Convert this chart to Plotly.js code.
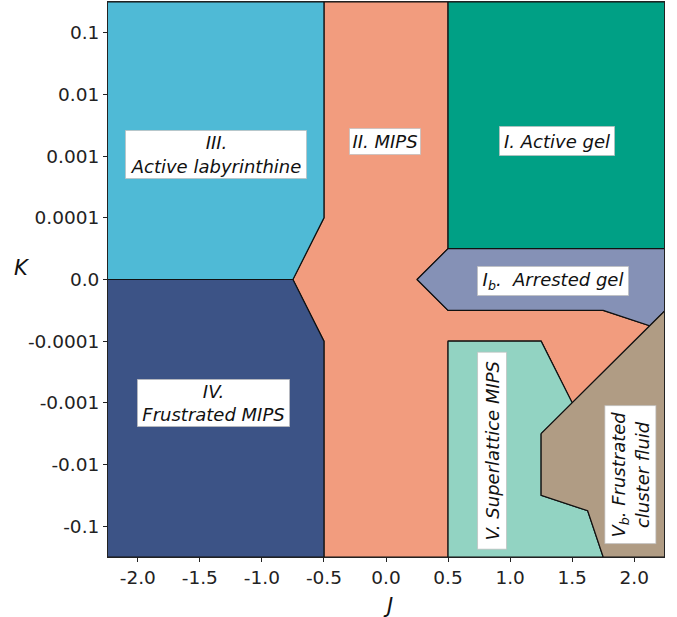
<!DOCTYPE html>
<html>
<head>
<meta charset="utf-8">
<script src="https://cdn.plot.ly/plotly-3.0.1.min.js"></script>
<style>
  html, body { margin: 0; padding: 0; background: #ffffff; }
  #chart { width: 677px; height: 617px; }
</style>
</head>
<body>
<div id="chart"></div>
<script>
// K axis is drawn on a symmetric-log style index: each decade of K is one step.
const kTickPos = [-4, -3, -2, -1, 0, 1, 2, 3, 4];
const kTickText = ['-0.1', '-0.01', '-0.001', '-0.0001', '0.0', '0.0001', '0.001', '0.01', '0.1'];
const jTickPos = [-2.0, -1.5, -1.0, -0.5, 0.0, 0.5, 1.0, 1.5, 2.0];
const jTickText = ['-2.0', '-1.5', '-1.0', '-0.5', '0.0', '0.5', '1.0', '1.5', '2.0'];

// Phase boundaries (J, K-index) for each region of the diagram
const mipsJ = [-0.75, -0.5, -0.5, 0.5, 0.5, 0.25, 0.5, 1.75, 2.125, 1.5, 1.25, 0.5, 0.5, -0.5, -0.5];
const mipsK = [0, 1, 4.5, 4.5, 0.5, 0, -0.5, -0.5, -0.75, -2, -1, -1, -4.5, -4.5, -1];

const activeGelJ = [0.5, 2.25, 2.25, 0.5];
const activeGelK = [0.5, 0.5, 4.5, 4.5];

const arrestedGelJ = [0.25, 0.5, 2.25, 2.25, 2.125, 1.75, 0.5];
const arrestedGelK = [0, 0.5, 0.5, -0.5, -0.75, -0.5, -0.5];

const labyrinthJ = [-2.25, -0.75, -0.5, -0.5, -2.25];
const labyrinthK = [0, 0, 1, 4.5, 4.5];

const frustratedMipsJ = [-2.25, -0.75, -0.5, -0.5, -2.25];
const frustratedMipsK = [0, 0, -1, -4.5, -4.5];

const superlatticeJ = [0.5, 1.25, 1.5, 1.25, 1.25, 1.625, 1.75, 0.5];
const superlatticeK = [-1, -1, -2, -2.5, -3.5, -3.75, -4.5, -4.5];

const clusterFluidJ = [1.25, 2.25, 2.25, 1.75, 1.625, 1.25];
const clusterFluidK = [-2.5, -0.5, -4.5, -4.5, -3.75, -3.5];

const phases = [
  { name: 'II. MIPS', j: mipsJ, k: mipsK, color: '#f29c7e' },
  { name: 'I. Active gel', j: activeGelJ, k: activeGelK, color: '#00a085' },
  { name: 'Ib. Arrested gel', j: arrestedGelJ, k: arrestedGelK, color: '#8591b6' },
  { name: 'III. Active labyrinthine', j: labyrinthJ, k: labyrinthK, color: '#4fbad6' },
  { name: 'IV. Frustrated MIPS', j: frustratedMipsJ, k: frustratedMipsK, color: '#3c5386' },
  { name: 'V. Superlattice MIPS', j: superlatticeJ, k: superlatticeK, color: '#92d3c2' },
  { name: 'Vb. Frustrated cluster fluid', j: clusterFluidJ, k: clusterFluidK, color: '#b09c84' }
];

const traces = phases.map(p => ({
  type: 'scatter',
  mode: 'lines',
  name: p.name,
  x: p.j.concat([p.j[0]]),
  y: p.k.concat([p.k[0]]),
  fill: 'toself',
  fillcolor: p.color,
  line: { color: '#111111', width: 1.2 },
  hoverinfo: 'name',
  showlegend: false
}));

const labelFont = { family: 'DejaVu Sans, sans-serif', size: 18, color: '#111111', style: 'italic' };
function phaseLabel(text, x, y, w, h, angle) {
  return {
    xref: 'x', yref: 'y', x: x, y: y, text: text,
    showarrow: false, font: labelFont,
    bgcolor: '#ffffff', bordercolor: 'rgba(190,190,190,0.7)', borderwidth: 1, borderpad: 0,
    width: w, height: h, textangle: angle || 0,
    xanchor: 'center', yanchor: 'middle', align: 'center'
  };
}

const annotations = [
  phaseLabel('III.<br>Active labyrinthine', -1.371, 2.03, 180, 47),
  phaseLabel('II. MIPS', -0.012, 2.24, 70, 25),
  phaseLabel('I. Active gel', 1.376, 2.24, 114, 28),
  phaseLabel('I<sub>b</sub>.&nbsp; Arrested gel', 1.344, -0.03, 150, 28),
  phaseLabel('IV.<br>Frustrated MIPS', -1.391, -2.01, 151, 46),
  phaseLabel('V. Superlattice MIPS', 0.857, -2.77, 196, 28, -90),
  phaseLabel('V<sub>b</sub>. Frustrated<br>cluster fluid', 1.972, -3.16, 137, 50, -90),
  {
    xref: 'paper', yref: 'paper', x: -0.155, y: 0.521, text: 'K', showarrow: false,
    font: { family: 'DejaVu Sans, sans-serif', size: 21, color: '#111111', style: 'italic' },
    xanchor: 'center', yanchor: 'middle'
  },
  {
    xref: 'paper', yref: 'paper', x: 0.503, y: -0.088, text: 'J', showarrow: false,
    font: { family: 'DejaVu Sans, sans-serif', size: 21, color: '#111111', style: 'italic' },
    xanchor: 'center', yanchor: 'middle'
  }
];

const tickFont = { family: 'DejaVu Sans, sans-serif', size: 18.5, color: '#222222' };

const layout = {
  width: 677, height: 617,
  margin: { l: 107.5, r: 12.5, t: 2, b: 60 },
  paper_bgcolor: '#ffffff', plot_bgcolor: '#ffffff',
  showlegend: false,
  xaxis: {
    range: [-2.24, 2.24], tickmode: 'array', tickvals: jTickPos, ticktext: jTickText,
    ticks: 'outside', ticklen: 4, tickwidth: 1, tickcolor: '#222222',
    showgrid: false, zeroline: false, showline: true, mirror: true,
    linecolor: '#222222', linewidth: 1, tickfont: tickFont, fixedrange: true
  },
  yaxis: {
    range: [-4.5, 4.5], tickmode: 'array', tickvals: kTickPos, ticktext: kTickText,
    ticks: 'outside', ticklen: 4, tickwidth: 1, tickcolor: '#222222',
    showgrid: false, zeroline: false, showline: true, mirror: true,
    linecolor: '#222222', linewidth: 1, tickfont: tickFont, fixedrange: true
  },
  annotations: annotations
};

Plotly.newPlot('chart', traces, layout, { displayModeBar: false, staticPlot: true });
</script>
</body>
</html>
